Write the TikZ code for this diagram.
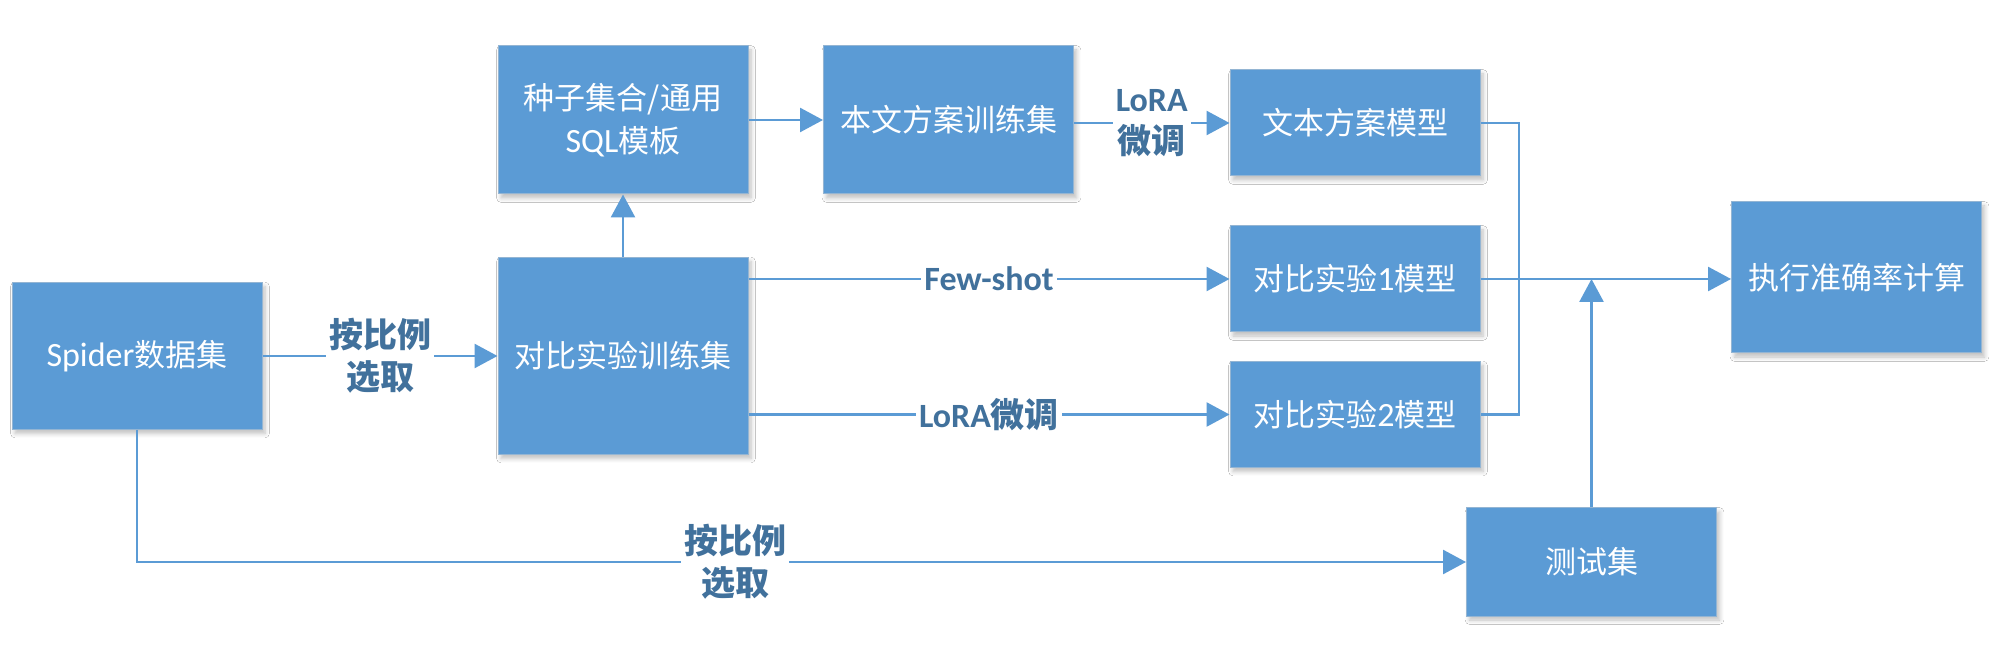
\documentclass[tikz,border=0pt]{standalone}
\usepackage{fontspec}
\setmainfont{Noto Sans CJK SC}
\newfontfamily\lat{Carlito}
\usetikzlibrary{arrows.meta,shadows.blur}
\definecolor{boxblue}{HTML}{5B9BD5}
\definecolor{lbl}{HTML}{41719C}
\begin{document}
\begin{tikzpicture}[x=0.5pt,y=-0.5pt,
  box/.style={fill=boxblue, draw=boxblue!85!black!60!white, line width=0.5pt, text=white,
    minimum width=125pt, align=center, inner sep=0pt,
    font=\fontsize{15.5}{21.5}\selectfont,
    blur shadow={shadow xshift=1.5pt,shadow yshift=-2pt,shadow opacity=25,shadow blur steps=6}},
  conn/.style={draw=boxblue, line width=1.3pt},
  arr/.style={conn, -{Triangle[length=11.5pt,width=12pt]}},
  lab/.style={fill=white, text=lbl, font=\bfseries\fontsize{17}{21}\selectfont, align=center, inner sep=1.5pt}]
\fill[white] (0,0) rectangle (2000,656);
\useasboundingbox (0,0) rectangle (2000,656);

\node[box, minimum height=73.5pt] (spider) at (137,356) {{\lat\fontsize{17}{21.5}\selectfont Spider}数据集};
\node[box, minimum height=98.5pt] (train) at (623,356) {对比实验训练集};
\node[box, minimum height=74pt] (seed) at (623,120) {种子集合/通用\\{\lat\fontsize{17}{21.5}\selectfont SQL}模板};
\node[box, minimum height=74pt] (ours) at (948.5,120) {本文方案训练集};
\node[box, minimum height=53pt] (m0) at (1355,123) {文本方案模型};
\node[box, minimum height=53pt] (m1) at (1355,279) {对比实验{\lat\fontsize{17}{21.5}\selectfont 1}模型};
\node[box, minimum height=53pt] (m2) at (1355,414.5) {对比实验{\lat\fontsize{17}{21.5}\selectfont 2}模型};
\node[box, minimum height=75.5pt] (eval) at (1856.5,277.5) {执行准确率计算};
\node[box, minimum height=54pt] (test) at (1591.5,562) {测试集};

\coordinate (jx) at (1519,0);

\draw[arr] (spider.east) -- node[lab]{按比例\\选取} (spider.east -| train.west);
\draw[arr] (train.north) -- (seed.south);
\draw[arr] (seed.east) -- (ours.west);
\draw[arr] (ours.east |- m0.west) -- node[lab]{{\lat LoRA}\\微调} (m0.west);
\draw[arr] (train.east |- m1.west) -- node[lab]{\lat Few-shot} (m1.west);
\draw[arr] (train.east |- m2.west) -- node[lab]{{\lat LoRA}微调} (m2.west);
\draw[conn] (m0.east) -- (m0.east -| jx) -- (m2.east -| jx) -- (m2.east);
\draw[arr] (m1.east) -- (m1.east -| eval.west);
\draw[arr] (test.north) -- (test.north |- m1.east);
\draw[arr] (spider.south) -- (spider.south |- test.west) -- node[lab, pos=0.45]{按比例\\选取} (test.west);
\end{tikzpicture}
\end{document}
